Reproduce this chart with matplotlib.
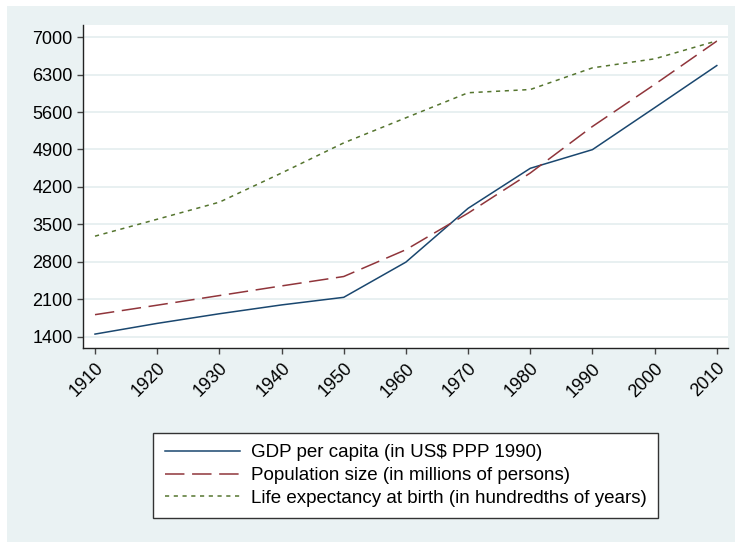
import matplotlib.pyplot as plt
from matplotlib.patches import Rectangle

plt.rcParams['font.family'] = ['Liberation Sans', 'DejaVu Sans']
plt.rcParams['lines.scale_dashes'] = False

years = [1910, 1920, 1930, 1940, 1950, 1960, 1970, 1980, 1990, 2000, 2010]
gdp = [1450, 1650, 1830, 1995, 2137, 2795, 3800, 4548, 4897, 5680, 6468]
population = [1813, 1990, 2170, 2350, 2526, 3027, 3710, 4460, 5330, 6115, 6925]
life_exp = [3280, 3596, 3915, 4460, 5023, 5492, 5960, 6020, 6425, 6594, 6930]

y_ticks = [1400, 2100, 2800, 3500, 4200, 4900, 5600, 6300, 7000]

labels = [
    "GDP per capita (in US$ PPP 1990)",
    "Population size (in millions of persons)",
    "Life expectancy at birth (in hundredths of years)",
]

W, H = 735, 542
fig = plt.figure(figsize=(W / 100, H / 100), dpi=100)
fig.patch.set_facecolor("white")
# light graph region, inset a few pixels at top and left
fig.patches.append(Rectangle((7 / W, 0), 1 - 7 / W, 1 - 6 / H,
                             transform=fig.transFigure, facecolor="#eaf2f3",
                             edgecolor="none", zorder=-10))

ax = fig.add_axes([83 / W, 1 - 348 / H, (728 - 83) / W, (348 - 25) / H])
ax.set_facecolor("white")

ax.plot(years, gdp, color="#1a476f", lw=1.1, label=labels[0])
ax.plot(years, population, color="#90353b", lw=1.1, dashes=(14, 5.5), label=labels[1])
ax.plot(years, life_exp, color="#55752f", lw=1.1, dashes=(3, 3.3), label=labels[2])

ax.set_xlim(1908.07, 2011.8)
ax.set_ylim(1190, 7226)
ax.set_xticks(years)
ax.set_yticks(y_ticks)
ax.set_xticklabels([str(y) for y in years], rotation=45, ha="right",
                   rotation_mode="anchor", fontsize=13)
ax.set_yticklabels([str(v) for v in y_ticks], fontsize=13)
ax.grid(axis="y", color="#e6eff0", lw=1.3)
ax.set_axisbelow(True)

for side in ("top", "right"):
    ax.spines[side].set_visible(False)
for side in ("left", "bottom"):
    ax.spines[side].set_color("#222222")
    ax.spines[side].set_linewidth(1.0)
ax.tick_params(axis="both", direction="out", length=4.5, width=1.0,
               color="#444444", labelcolor="black")
ax.tick_params(axis="y", pad=3)
ax.tick_params(axis="x", pad=4)

leg = fig.legend(loc="center", bbox_to_anchor=(405.5 / W, 1 - 475.5 / H),
                 fontsize=13.5, frameon=True, fancybox=False, handlelength=4.0,
                 handletextpad=0.6, labelspacing=0.3, borderpad=0.6,
                 borderaxespad=0)
leg.get_frame().set_edgecolor("#333333")
leg.get_frame().set_linewidth(1.0)
leg.get_frame().set_facecolor("white")
leg.get_frame().set_alpha(1)

fig.savefig("out.png", dpi=100)
